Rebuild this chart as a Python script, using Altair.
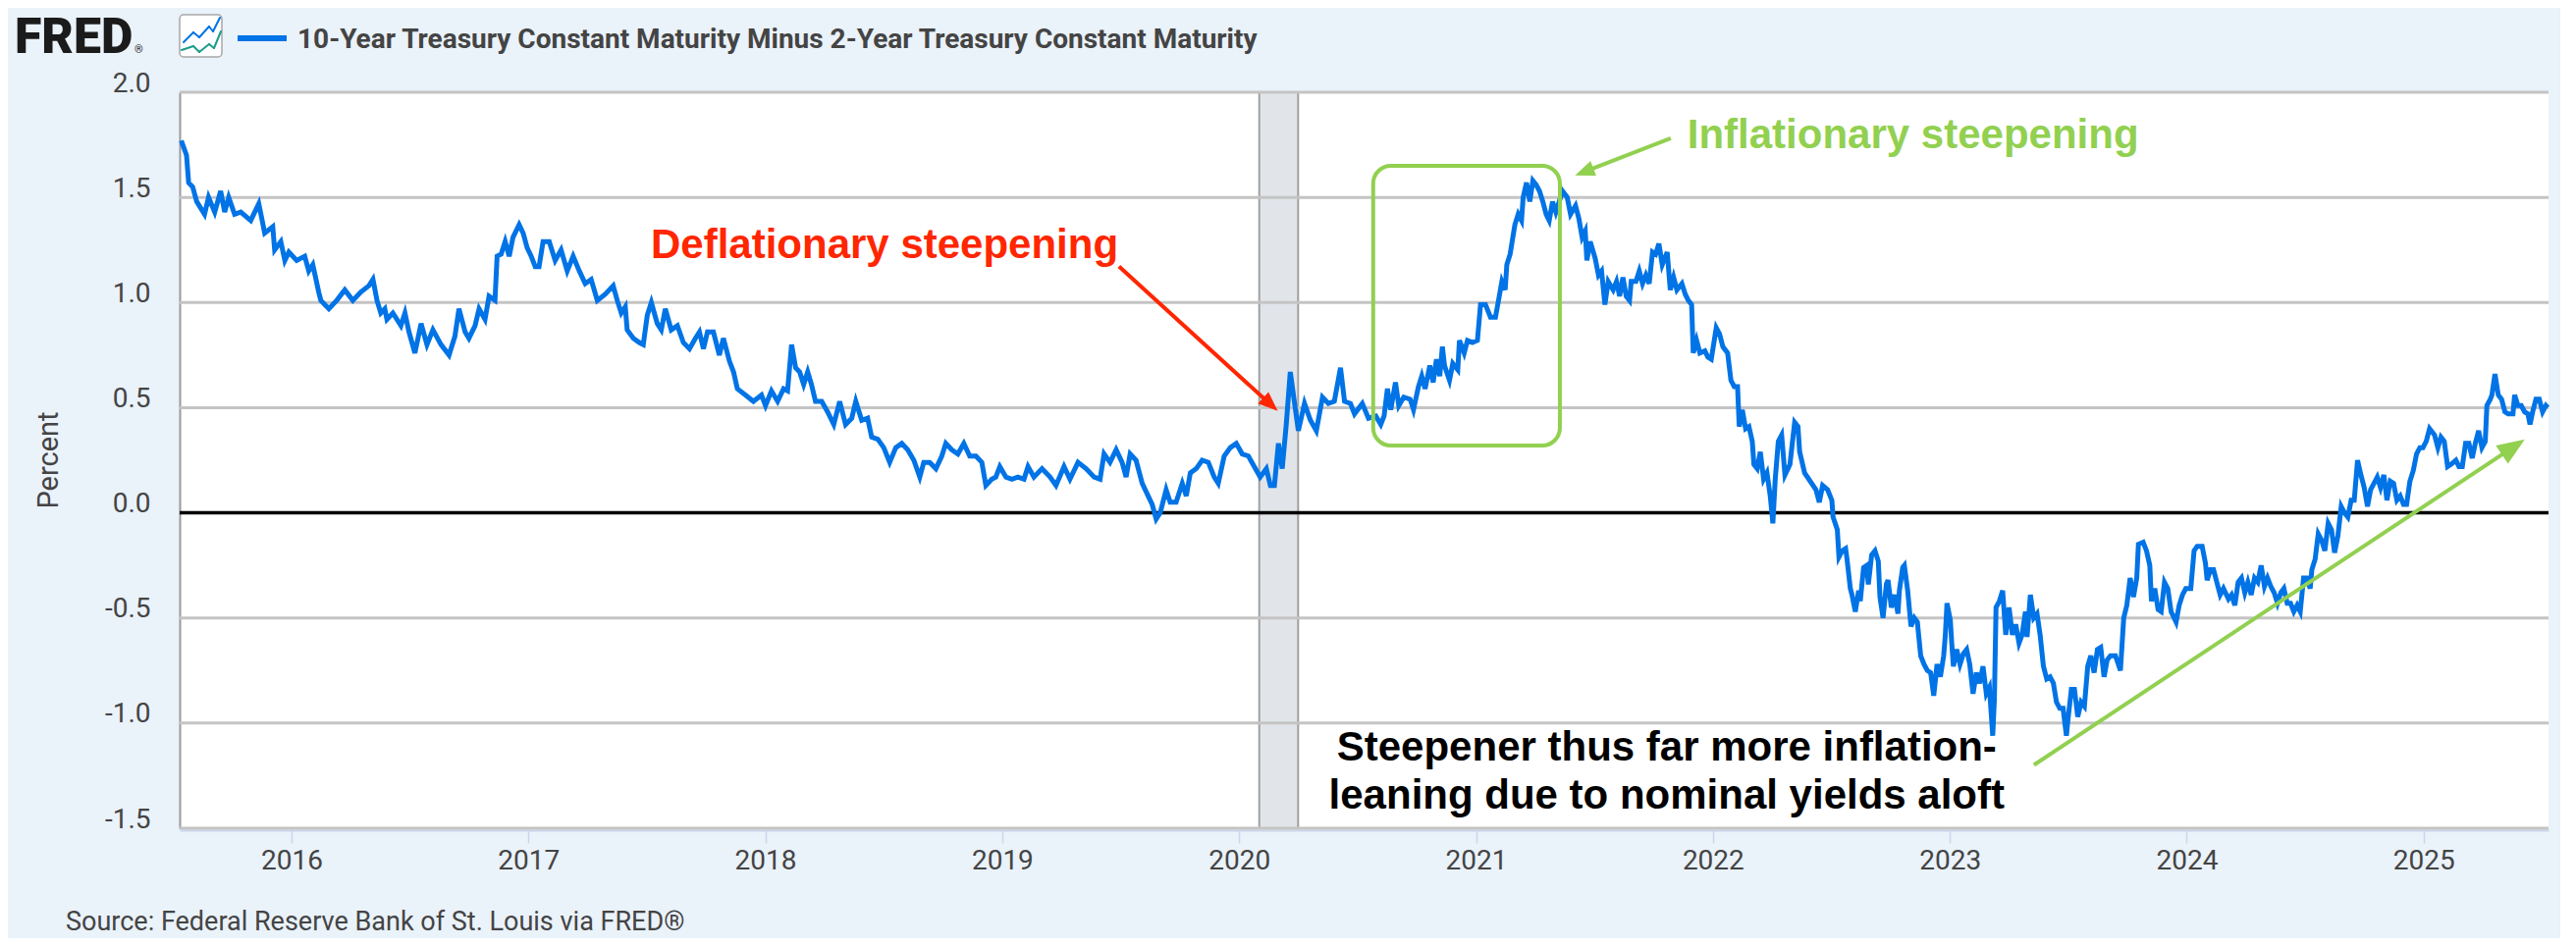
import math
import altair as alt
import pandas as pd

# 10-Year minus 2-Year Treasury spread (percent), read off the chart as
# (decimal year, value) pairs, one list per stretch of the series
seg_2015_2017 = [
    (2015.535, 1.77), (2015.557, 1.70), (2015.566, 1.57), (2015.583, 1.55), (2015.600, 1.48),
    (2015.633, 1.42), (2015.650, 1.50), (2015.676, 1.43), (2015.701, 1.53), (2015.718, 1.43),
    (2015.735, 1.50), (2015.760, 1.42), (2015.786, 1.43), (2015.828, 1.39), (2015.862, 1.47),
    (2015.887, 1.33), (2015.921, 1.36), (2015.929, 1.25), (2015.955, 1.29), (2015.972, 1.20),
    (2015.989, 1.24), (2016.022, 1.20), (2016.056, 1.22), (2016.073, 1.15), (2016.090, 1.18),
    (2016.115, 1.05), (2016.124, 1.01), (2016.158, 0.97), (2016.191, 1.01), (2016.225, 1.06),
    (2016.259, 1.01), (2016.293, 1.05), (2016.327, 1.08), (2016.344, 1.11), (2016.361, 1.01),
    (2016.377, 0.95), (2016.394, 0.97), (2016.403, 0.92), (2016.428, 0.95), (2016.462, 0.89),
    (2016.479, 0.95), (2016.496, 0.86), (2016.521, 0.76), (2016.547, 0.90), (2016.572, 0.80),
    (2016.597, 0.87), (2016.631, 0.80), (2016.665, 0.75), (2016.690, 0.84), (2016.707, 0.97),
    (2016.733, 0.86), (2016.749, 0.83), (2016.775, 0.89), (2016.792, 0.97), (2016.817, 0.92),
    (2016.834, 1.03), (2016.859, 1.01), (2016.868, 1.22), (2016.885, 1.23), (2016.902, 1.29),
    (2016.919, 1.22), (2016.935, 1.31), (2016.961, 1.37), (2016.978, 1.33), (2016.995, 1.26),
    (2017.012, 1.22), (2017.029, 1.17), (2017.045, 1.17), (2017.062, 1.29), (2017.088, 1.29),
    (2017.113, 1.20), (2017.138, 1.25), (2017.164, 1.15), (2017.189, 1.22), (2017.215, 1.15),
    (2017.240, 1.09), (2017.265, 1.11), (2017.291, 1.01), (2017.325, 1.04), (2017.358, 1.08),
    (2017.375, 1.01), (2017.392, 0.95), (2017.409, 0.98), (2017.417, 0.87), (2017.443, 0.83),
    (2017.468, 0.81), (2017.485, 0.80), (2017.502, 0.94), (2017.519, 1.00), (2017.544, 0.90),
    (2017.561, 0.87), (2017.578, 0.97), (2017.603, 0.87), (2017.629, 0.89), (2017.654, 0.81),
    (2017.680, 0.78), (2017.705, 0.83), (2017.722, 0.86), (2017.739, 0.78), (2017.756, 0.86),
    (2017.781, 0.86), (2017.806, 0.75), (2017.823, 0.83), (2017.849, 0.72), (2017.866, 0.67),
    (2017.882, 0.59), (2017.916, 0.56), (2017.950, 0.53), (2017.984, 0.56),
]
seg_2018_2020 = [
    (2018.001, 0.51), (2018.026, 0.58), (2018.052, 0.53), (2018.077, 0.59), (2018.094, 0.58),
    (2018.111, 0.80), (2018.128, 0.69), (2018.145, 0.67), (2018.162, 0.61), (2018.179, 0.67),
    (2018.195, 0.61), (2018.212, 0.53), (2018.238, 0.53), (2018.263, 0.48), (2018.289, 0.42),
    (2018.314, 0.53), (2018.339, 0.42), (2018.365, 0.45), (2018.382, 0.53), (2018.407, 0.44),
    (2018.432, 0.45), (2018.449, 0.36), (2018.475, 0.35), (2018.500, 0.31), (2018.525, 0.24),
    (2018.551, 0.31), (2018.576, 0.33), (2018.601, 0.30), (2018.627, 0.25), (2018.652, 0.17),
    (2018.669, 0.24), (2018.694, 0.24), (2018.720, 0.21), (2018.745, 0.27), (2018.762, 0.33),
    (2018.787, 0.30), (2018.813, 0.28), (2018.838, 0.33), (2018.863, 0.27), (2018.889, 0.27),
    (2018.914, 0.24), (2018.931, 0.13), (2018.956, 0.16), (2018.973, 0.17), (2018.990, 0.22),
    (2019.016, 0.17), (2019.041, 0.16), (2019.066, 0.17), (2019.092, 0.16), (2019.109, 0.22),
    (2019.134, 0.17), (2019.168, 0.21), (2019.202, 0.17), (2019.227, 0.13), (2019.261, 0.22),
    (2019.286, 0.16), (2019.320, 0.24), (2019.354, 0.21), (2019.388, 0.17), (2019.413, 0.16),
    (2019.430, 0.28), (2019.455, 0.24), (2019.481, 0.30), (2019.506, 0.24), (2019.523, 0.17),
    (2019.540, 0.28), (2019.565, 0.25), (2019.591, 0.14), (2019.616, 0.08), (2019.633, 0.04),
    (2019.650, -0.03), (2019.667, 0.00), (2019.692, 0.11), (2019.709, 0.05), (2019.734, 0.05),
    (2019.760, 0.14), (2019.777, 0.08), (2019.794, 0.19), (2019.819, 0.21), (2019.844, 0.25),
    (2019.870, 0.24), (2019.895, 0.17), (2019.912, 0.14), (2019.937, 0.27), (2019.963, 0.31),
    (2019.988, 0.33), (2020.013, 0.28), (2020.039, 0.27), (2020.064, 0.22), (2020.089, 0.17),
    (2020.115, 0.21), (2020.132, 0.13), (2020.149, 0.13), (2020.166, 0.33), (2020.182, 0.21),
    (2020.199, 0.42), (2020.216, 0.67), (2020.233, 0.53), (2020.250, 0.39), (2020.276, 0.52),
    (2020.301, 0.44), (2020.326, 0.39), (2020.352, 0.55), (2020.377, 0.52), (2020.402, 0.53),
    (2020.428, 0.69), (2020.445, 0.53), (2020.470, 0.52), (2020.487, 0.47), (2020.520, 0.52),
    (2020.546, 0.45),
]
seg_2020_2022 = [
    (2020.577, 0.46), (2020.598, 0.42), (2020.612, 0.46), (2020.626, 0.59), (2020.640, 0.49),
    (2020.660, 0.62), (2020.674, 0.51), (2020.695, 0.55), (2020.722, 0.54), (2020.736, 0.49),
    (2020.757, 0.60), (2020.771, 0.65), (2020.785, 0.59), (2020.805, 0.70), (2020.819, 0.62),
    (2020.833, 0.73), (2020.847, 0.65), (2020.858, 0.79), (2020.867, 0.70), (2020.888, 0.63),
    (2020.902, 0.71), (2020.923, 0.68), (2020.930, 0.82), (2020.950, 0.76), (2020.964, 0.82),
    (2020.985, 0.81), (2021.006, 0.82), (2021.019, 0.99), (2021.040, 0.99), (2021.061, 0.93),
    (2021.082, 0.93), (2021.095, 1.01), (2021.109, 1.10), (2021.123, 1.06), (2021.130, 1.18),
    (2021.144, 1.23), (2021.151, 1.28), (2021.164, 1.37), (2021.178, 1.42), (2021.192, 1.39),
    (2021.199, 1.50), (2021.213, 1.57), (2021.227, 1.48), (2021.240, 1.58), (2021.254, 1.56),
    (2021.268, 1.53), (2021.282, 1.48), (2021.296, 1.42), (2021.309, 1.39), (2021.323, 1.48),
    (2021.337, 1.43), (2021.351, 1.48), (2021.365, 1.53), (2021.385, 1.50), (2021.399, 1.42),
    (2021.420, 1.46), (2021.434, 1.40), (2021.448, 1.31), (2021.461, 1.34), (2021.468, 1.20),
    (2021.482, 1.29), (2021.503, 1.21), (2021.517, 1.13), (2021.530, 1.15), (2021.544, 0.99),
    (2021.558, 1.10), (2021.579, 1.06), (2021.593, 1.10), (2021.606, 1.03), (2021.620, 1.12),
    (2021.634, 1.03), (2021.648, 1.01), (2021.655, 1.10), (2021.675, 1.10), (2021.689, 1.15),
    (2021.703, 1.09), (2021.717, 1.13), (2021.731, 1.09), (2021.745, 1.24), (2021.758, 1.23),
    (2021.772, 1.28), (2021.786, 1.18), (2021.807, 1.24), (2021.820, 1.06), (2021.834, 1.12),
    (2021.848, 1.06), (2021.869, 1.09), (2021.883, 1.04), (2021.896, 1.01), (2021.910, 0.99),
    (2021.917, 0.76), (2021.931, 0.82), (2021.945, 0.76), (2021.966, 0.77), (2021.979, 0.74),
    (2021.993, 0.73), (2022.014, 0.88), (2022.028, 0.85), (2022.042, 0.79), (2022.062, 0.76),
    (2022.076, 0.63), (2022.090, 0.60), (2022.104, 0.60), (2022.111, 0.41), (2022.124, 0.49),
    (2022.138, 0.40), (2022.152, 0.41), (2022.166, 0.34), (2022.173, 0.23), (2022.187, 0.21),
    (2022.200, 0.29), (2022.214, 0.16), (2022.228, 0.19), (2022.242, 0.08), (2022.253, -0.05),
    (2022.263, 0.16), (2022.276, 0.34), (2022.290, 0.37), (2022.304, 0.18), (2022.325, 0.23),
    (2022.345, 0.43), (2022.359, 0.41), (2022.366, 0.29), (2022.387, 0.19),
]
seg_2022_2023 = [
    (2022.435, 0.11), (2022.449, 0.05), (2022.463, 0.13), (2022.484, 0.11), (2022.502, 0.06),
    (2022.507, -0.02), (2022.525, -0.08), (2022.532, -0.21), (2022.546, -0.18), (2022.560, -0.17),
    (2022.566, -0.22), (2022.580, -0.36), (2022.587, -0.39), (2022.601, -0.47), (2022.615, -0.37),
    (2022.622, -0.42), (2022.636, -0.26), (2022.649, -0.25), (2022.656, -0.34), (2022.670, -0.20),
    (2022.684, -0.18), (2022.698, -0.23), (2022.705, -0.40), (2022.718, -0.50), (2022.732, -0.34),
    (2022.739, -0.32), (2022.753, -0.45), (2022.767, -0.39), (2022.781, -0.48), (2022.787, -0.37),
    (2022.801, -0.26), (2022.808, -0.25), (2022.822, -0.37), (2022.836, -0.54), (2022.850, -0.50),
    (2022.863, -0.52), (2022.877, -0.68), (2022.891, -0.72), (2022.905, -0.75), (2022.919, -0.76),
    (2022.932, -0.87), (2022.946, -0.72), (2022.960, -0.78), (2022.974, -0.68), (2022.981, -0.58),
    (2022.988, -0.43), (2023.002, -0.51), (2023.008, -0.62), (2023.015, -0.73), (2023.029, -0.65),
    (2023.043, -0.72), (2023.057, -0.67), (2023.071, -0.65), (2023.084, -0.72), (2023.098, -0.86),
    (2023.112, -0.76), (2023.126, -0.81), (2023.140, -0.73), (2023.154, -0.86), (2023.167, -0.83),
    (2023.181, -1.06), (2023.188, -0.89), (2023.195, -0.45), (2023.209, -0.42), (2023.223, -0.37),
    (2023.236, -0.58), (2023.250, -0.45), (2023.264, -0.58), (2023.278, -0.53), (2023.292, -0.62),
    (2023.305, -0.58), (2023.319, -0.47), (2023.326, -0.59), (2023.340, -0.39), (2023.354, -0.50),
    (2023.368, -0.48), (2023.381, -0.58), (2023.395, -0.73), (2023.409, -0.79), (2023.423, -0.78),
    (2023.437, -0.81), (2023.450, -0.90), (2023.464, -0.93), (2023.478, -0.93), (2023.492, -1.06),
    (2023.499, -0.98), (2023.513, -0.84), (2023.526, -0.84), (2023.540, -0.97), (2023.554, -0.90),
    (2023.568, -0.92), (2023.582, -0.73), (2023.595, -0.68), (2023.609, -0.76), (2023.623, -0.65),
    (2023.637, -0.64), (2023.651, -0.78), (2023.664, -0.70), (2023.678, -0.68), (2023.699, -0.68),
    (2023.720, -0.75), (2023.734, -0.50), (2023.747, -0.44), (2023.761, -0.31), (2023.775, -0.40),
    (2023.789, -0.31), (2023.796, -0.15), (2023.816, -0.14), (2023.830, -0.18), (2023.844, -0.25),
    (2023.851, -0.42),
]
seg_2024_2025 = [
    (2023.865, -0.36), (2023.879, -0.46), (2023.892, -0.47), (2023.906, -0.33), (2023.920, -0.36),
    (2023.934, -0.47), (2023.955, -0.52), (2023.968, -0.44), (2023.982, -0.39), (2023.996, -0.36),
    (2024.017, -0.36), (2024.031, -0.18), (2024.044, -0.16), (2024.065, -0.16), (2024.079, -0.24),
    (2024.086, -0.32), (2024.100, -0.27), (2024.113, -0.27), (2024.127, -0.33), (2024.141, -0.39),
    (2024.155, -0.36), (2024.176, -0.41), (2024.189, -0.39), (2024.203, -0.44), (2024.217, -0.33),
    (2024.231, -0.31), (2024.245, -0.38), (2024.258, -0.33), (2024.272, -0.39), (2024.286, -0.31),
    (2024.300, -0.33), (2024.314, -0.25), (2024.328, -0.35), (2024.341, -0.31), (2024.355, -0.35),
    (2024.369, -0.38), (2024.383, -0.43), (2024.397, -0.38), (2024.410, -0.36), (2024.424, -0.43),
    (2024.438, -0.43), (2024.452, -0.47), (2024.466, -0.44), (2024.479, -0.47), (2024.486, -0.39),
    (2024.493, -0.31), (2024.507, -0.31), (2024.521, -0.36), (2024.528, -0.27), (2024.542, -0.22),
    (2024.555, -0.10), (2024.569, -0.13), (2024.583, -0.18), (2024.597, -0.05), (2024.611, -0.08),
    (2024.624, -0.19), (2024.638, -0.11), (2024.652, 0.03), (2024.666, 0.00), (2024.680, -0.02),
    (2024.694, 0.06), (2024.707, 0.06), (2024.721, 0.25), (2024.735, 0.18), (2024.749, 0.12),
    (2024.763, 0.03), (2024.776, 0.11), (2024.790, 0.14), (2024.804, 0.17), (2024.818, 0.12),
    (2024.832, 0.18), (2024.845, 0.06), (2024.859, 0.15), (2024.873, 0.14), (2024.887, 0.06),
    (2024.901, 0.08), (2024.915, 0.04), (2024.928, 0.04), (2024.942, 0.15), (2024.956, 0.20),
    (2024.970, 0.28), (2024.984, 0.31), (2024.997, 0.31), (2025.011, 0.34), (2025.025, 0.40),
    (2025.046, 0.37), (2025.060, 0.31), (2025.073, 0.36), (2025.087, 0.34), (2025.101, 0.22),
    (2025.115, 0.23), (2025.136, 0.25), (2025.149, 0.22), (2025.163, 0.22), (2025.177, 0.33),
    (2025.191, 0.33), (2025.205, 0.26), (2025.218, 0.33), (2025.232, 0.39), (2025.246, 0.31),
    (2025.260, 0.34), (2025.267, 0.51), (2025.281, 0.54), (2025.288, 0.56), (2025.301, 0.66),
    (2025.315, 0.56), (2025.329, 0.54), (2025.343, 0.48), (2025.357, 0.47), (2025.377, 0.47),
    (2025.384, 0.56), (2025.398, 0.51), (2025.412, 0.51), (2025.426, 0.48), (2025.440, 0.47),
    (2025.449, 0.42), (2025.460, 0.48), (2025.474, 0.54), (2025.488, 0.54), (2025.502, 0.48),
    (2025.516, 0.51), (2025.524, 0.50),
]

year_ticks = list(range(2016, 2026))
pct_ticks = [-1.5, -1.0, -0.5, 0.0, 0.5, 1.0, 1.5, 2.0]
x_domain = [2015.528, 2025.527]
y_domain = [-1.5, 2.0]

# COVID recession (Feb 2020 - Apr 2020)
recession_start = [2020.085]
recession_end = [2020.249]

# annotation anchors, in (year, percent)
defl_text = (2017.517, 1.213, 'Deflationary steepening')
defl_arrow = (2019.493, 1.172, 2020.163, 0.484)
infl_text = (2021.892, 1.732, 'Inflationary steepening')
infl_arrow = (2021.822, 1.781, 2021.418, 1.605)
infl_box = (2020.566, 2021.354, 0.32, 1.65)
steep_lines = ['Steepener thus far more inflation-', 'leaning due to nominal yields aloft']
steep_x = 2021.805
steep_y = [-1.180, -1.405]
steep_arrow = (2023.355, -1.199, 2025.427, 0.349)

series_title = '10-Year Treasury Constant Maturity Minus 2-Year Treasury Constant Maturity'
source_text = 'Source: Federal Reserve Bank of St. Louis via FRED®'

BLUE = '#0073e6'
GREEN = '#92d050'
RED = '#ff2600'
TEXT = '#444444'
W, H = 2413, 750

px_per_year = W / (x_domain[1] - x_domain[0])
px_per_pct = H / (y_domain[1] - y_domain[0])

x_scale = alt.Scale(domain=x_domain, nice=False, zero=False)
y_scale = alt.Scale(domain=y_domain, nice=False, zero=False)


# every layer shares the scales; only the line layer spells out the axes
def xq(field):
    return alt.X(field, type='quantitative', scale=x_scale, title=None)


def yq(field):
    return alt.Y(field, type='quantitative', scale=y_scale, title=None)


spread = pd.DataFrame(
    seg_2015_2017 + seg_2018_2020 + seg_2020_2022 + seg_2022_2023 + seg_2024_2025,
    columns=['year', 'pct'],
)

line = alt.Chart(spread).mark_line(color=BLUE, strokeWidth=5).encode(
    x=alt.X('year:Q', scale=x_scale, title=None,
            axis=alt.Axis(values=year_ticks, format='d', grid=False,
                          domainColor='#ccd6eb', domainWidth=2, offset=2,
                          tickColor='#ccd6eb', tickWidth=1.5, tickSize=13,
                          labelFont='Roboto', labelFontSize=28, labelColor=TEXT,
                          labelPadding=4, labelFlush=False)),
    y=alt.Y('pct:Q', scale=y_scale, title=None,
            axis=alt.Axis(values=pct_ticks, grid=False, ticks=False,
                          domainColor='#9a9a9a', domainWidth=2,
                          labelFont='Roboto', labelFontSize=28, labelColor=TEXT,
                          labelPadding=30, labelBaseline='alphabetic', labelOffset=-1,
                          labelExpr="replace(format(datum.value, '.1f'), '\u2212', '-')")),
)

band = alt.Chart(pd.DataFrame({'start': recession_start, 'end': recession_end})).mark_rect(
    fill='#e1e5ea', stroke='#a0a0a0', strokeWidth=2
).encode(x=xq('start'), x2='end')

grid = alt.Chart(pd.DataFrame({'pct': [t for t in pct_ticks if t != 0]})).mark_rule(
    color='#c4c4c4', strokeWidth=3
).encode(y=yq('pct'))

zero = alt.Chart(pd.DataFrame({'pct': [0.0]})).mark_rule(
    color='black', strokeWidth=3.5
).encode(y=yq('pct'))

box = alt.Chart(pd.DataFrame({'x0': [infl_box[0]], 'x1': [infl_box[1]],
                              'y0': [infl_box[2]], 'y1': [infl_box[3]]})).mark_rect(
    fillOpacity=0, stroke=GREEN, strokeWidth=4, cornerRadius=18
).encode(x=xq('x0'), x2='x1', y=yq('y0'), y2='y1')

HEAD = 'M0,0L0.8,2L-0.8,2Z'


def arrow(spec, color, head):
    x0, y0, x1, y1 = spec
    dx = (x1 - x0) * px_per_year
    dy = (y1 - y0) * px_per_pct
    length = math.hypot(dx, dy)
    angle = math.degrees(math.atan2(dx, dy)) % 360
    back = head * 0.6 / length
    seg = pd.DataFrame({'x0': [x0], 'y0': [y0],
                        'x1': [x1 - (x1 - x0) * back], 'y1': [y1 - (y1 - y0) * back]})
    shaft = alt.Chart(seg).mark_rule(color=color, strokeWidth=4).encode(
        x=xq('x0'), x2='x1', y=yq('y0'), y2='y1')
    tip = alt.Chart(pd.DataFrame({'x': [x1], 'y': [y1]})).mark_point(
        shape=HEAD, filled=True, size=head * head, angle=angle, color=color, opacity=1
    ).encode(x=xq('x'), y=yq('y'))
    return [shaft, tip]


def label(x, y, text, color):
    return alt.Chart(pd.DataFrame({'x': [x], 'y': [y], 't': [text]})).mark_text(
        font='Liberation Sans', fontWeight='bold', fontSize=42, color=color,
        align='left', baseline='alphabetic'
    ).encode(x=xq('x'), y=yq('y'), text='t:N')


steep = alt.Chart(pd.DataFrame({'x': [steep_x] * 2, 'y': steep_y, 't': steep_lines})).mark_text(
    font='Liberation Sans', fontWeight='bold', fontSize=42, color='black',
    align='center', baseline='alphabetic'
).encode(x=xq('x'), y=yq('y'), text='t:N')

# header, axis title and source line sit outside the plot area
one = pd.DataFrame({'k': [0]})


def free_text(text, x, y, size, color=TEXT, weight='normal', **kw):
    return alt.Chart(one).mark_text(
        text=text, font='Roboto', fontSize=size, fontWeight=weight, color=color,
        align=kw.pop('align', 'left'), baseline=kw.pop('baseline', 'alphabetic'), **kw
    ).encode(x=alt.value(x), y=alt.value(y))


fred = free_text('FRED', -168, -40, 50, color='#1b1b1b', weight=900)
reg = free_text('®', -46, -40, 11, color='#1b1b1b')
icon = alt.Chart(one).mark_rect(fill='white', stroke='#a8a8a8', strokeWidth=1.5, cornerRadius=4).encode(
    x=alt.value(0), x2=alt.value(43), y=alt.value(-79), y2=alt.value(-36))

icon_blue = [(4, -51), (14, -61), (20, -56), (30, -67), (34, -62), (41, -76)]
icon_green = [(2, -43), (14, -47), (20, -41), (30, -49), (35, -45), (42, -62)]
icon_lines = []
for pts, col in ((icon_blue, BLUE), (icon_green, '#1a9c8c')):
    for (ax, ay), (bx, by) in zip(pts[:-1], pts[1:]):
        icon_lines.append(alt.Chart(one).mark_rule(color=col, strokeWidth=2, strokeCap='round').encode(
            x=alt.value(ax), x2=alt.value(bx), y=alt.value(ay), y2=alt.value(by)))

legend_swatch = alt.Chart(one).mark_rule(color=BLUE, strokeWidth=6).encode(
    x=alt.value(59), x2=alt.value(109), y=alt.value(-55))
legend_text = free_text(series_title, 120, -45, 28, weight='bold')
y_title = free_text('Percent', -133, H / 2, 29, align='center', baseline='middle', angle=270)
source = free_text(source_text, -116, 854, 27)

chart = alt.layer(
    band, grid, zero, line, box,
    *arrow(defl_arrow, RED, 20), *arrow(infl_arrow, GREEN, 20), *arrow(steep_arrow, GREEN, 28),
    label(*defl_text, RED), label(*infl_text, GREEN), steep,
    fred, reg, icon, *icon_lines, legend_swatch, legend_text, y_title, source,
).properties(
    width=W, height=H,
    autosize=alt.AutoSizeParams(type='none'),
    padding={'left': 175, 'top': 86, 'right': 12, 'bottom': 112},
    background='#eaf2fa',
).configure_view(fill='white', strokeWidth=0)

chart.save('out.html', embed_options={'renderer': 'svg', 'actions': False})
